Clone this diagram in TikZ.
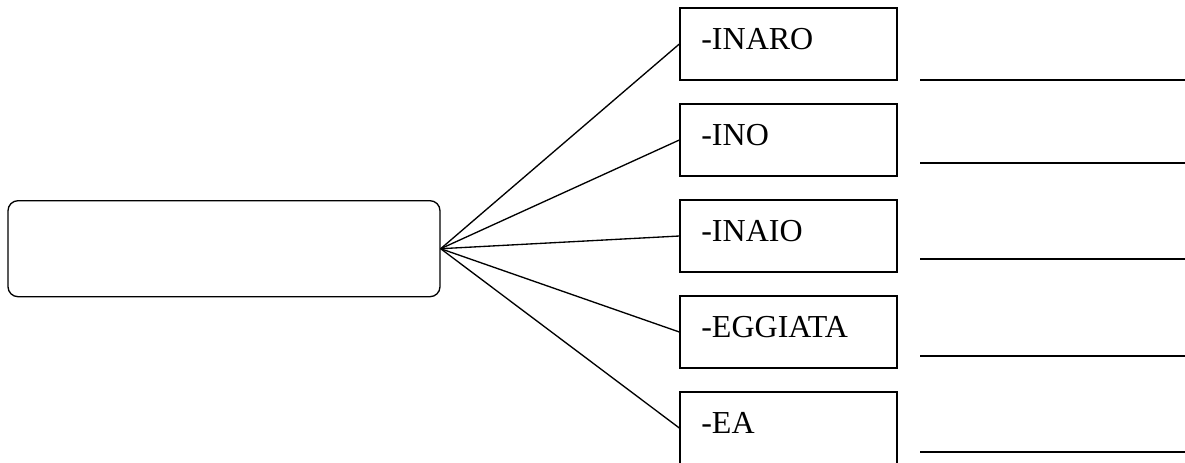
\documentclass[tikz,border=0pt]{standalone}
\usepackage{fontspec}
\setmainfont{Liberation Serif}
\begin{document}
\begin{tikzpicture}
  [x=0.75pt,y=-0.75pt,line width=1pt,every node/.style={draw,rectangle,inner sep=0pt}]
  \tikzstyle{suffix} = [minimum width=162.75pt,minimum height=54pt,align=left,text width=130.75pt,inner xsep=16pt,text height=15.9pt,text depth=7.2pt,font=\fontsize{24}{28}\selectfont]
  \useasboundingbox (0,0) rectangle (1185,462);
  \node[rounded corners=7.5pt,minimum width=324pt,minimum height=72pt] (root) at (224,248.7) {};
  \node[suffix] (s1) at (788.5,44)  {-INARO};
  \node[suffix] (s2) at (788.5,140) {-INO};
  \node[suffix] (s3) at (788.5,236) {-INAIO};
  \node[suffix] (s4) at (788.5,332) {-EGGIATA};
  \node[suffix] (s5) at (788.5,428) {-EA};
  \foreach \dest in {s1,s2,s3,s4,s5}
   \draw (root.east) -- (\dest.west);
  \foreach \n /\y in {1/80,2/163,3/259,4/356,5/452} {
   \coordinate (u\n a) at (920,\y);
   \coordinate (u\n b) at (1185,\y);
   \draw (u\n a) -- (u\n b);
  }
\end{tikzpicture}
\end{document}
